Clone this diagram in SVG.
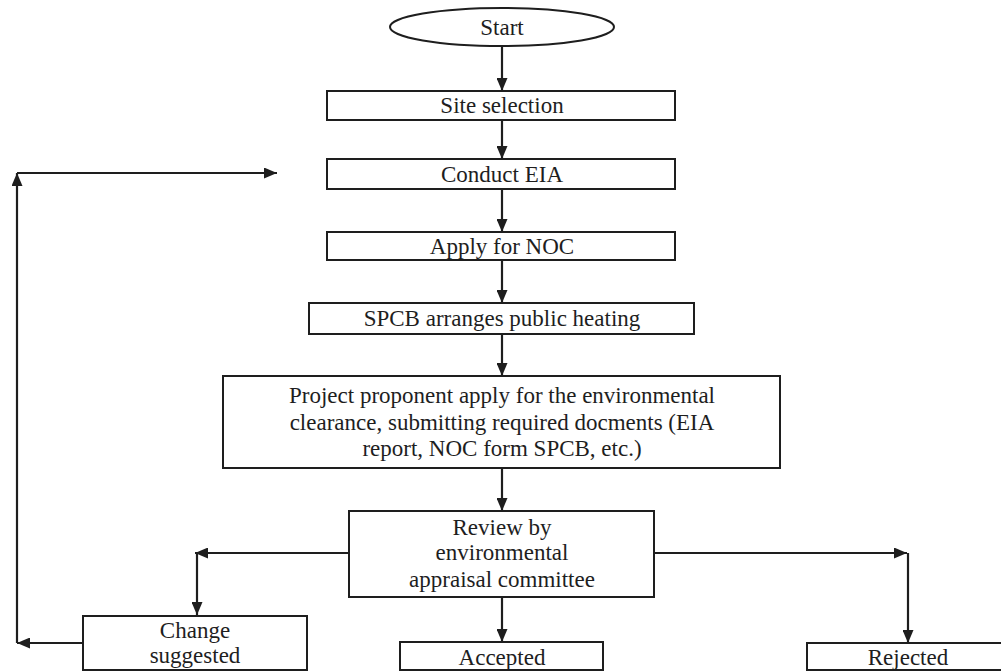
<svg xmlns="http://www.w3.org/2000/svg" width="1001" height="672" viewBox="0 0 1001 672">
<style>
.box{fill:#fff;stroke:#1e1e1e;stroke-width:2}
.t{font-family:"Liberation Serif","Times New Roman",serif;font-size:23px;fill:#1e1e1e;text-anchor:middle}
.c{fill:none;stroke:#1e1e1e;stroke-width:2.2;marker-end:url(#ah)}
</style>
<defs>
<marker id="ah" viewBox="0 0 13 11" refX="13" refY="5.5" markerWidth="13" markerHeight="11" markerUnits="userSpaceOnUse" orient="auto">
<path d="M0,0 L13,5.5 L0,11 z" fill="#1e1e1e"/>
</marker>
</defs>
<rect width="1001" height="672" fill="#fff"/>
<g id="connectors">
<path class="c" d="M502,46 V91"/>
<path class="c" d="M502,120 V159"/>
<path class="c" d="M502,189 V232"/>
<path class="c" d="M502,260 V303"/>
<path class="c" d="M502,334 V376"/>
<path class="c" d="M502,468 V511"/>
<path class="c" d="M502,597 V642"/>
<path class="c" d="M349,553 H195"/>
<path class="c" d="M197,553 V615"/>
<path class="c" d="M654,553 H907"/>
<path class="c" d="M908,553 V643"/>
<path class="c" d="M83,643 H17"/>
<path class="c" d="M17,643 V173"/>
<path class="c" d="M17,173 H277"/>
</g>
<g id="start">
<ellipse class="box" cx="502" cy="27" rx="112" ry="19"/>
<text class="t" x="502" y="35">Start</text>
</g>
<g id="site-selection">
<rect class="box" x="327" y="91" width="348" height="29"/>
<text class="t" x="502" y="113">Site selection</text>
</g>
<g id="conduct-eia">
<rect class="box" x="327" y="159" width="348" height="30"/>
<text class="t" x="502" y="182">Conduct EIA</text>
</g>
<g id="apply-noc">
<rect class="box" x="327" y="232" width="348" height="28"/>
<text class="t" x="502" y="254">Apply for NOC</text>
</g>
<g id="spcb">
<rect class="box" x="309" y="303" width="385" height="31"/>
<text class="t" x="502" y="326">SPCB arranges public heating</text>
</g>
<g id="project">
<rect class="box" x="223" y="376" width="557" height="92"/>
<text class="t" x="502" y="403">Project proponent apply for the environmental</text>
<text class="t" x="502" y="430">clearance, submitting required docments (EIA</text>
<text class="t" x="502" y="456">report, NOC form SPCB, etc.)</text>
</g>
<g id="review">
<rect class="box" x="349" y="511" width="305" height="86"/>
<text class="t" x="502" y="535">Review by</text>
<text class="t" x="502" y="560">environmental</text>
<text class="t" x="502" y="587">appraisal committee</text>
</g>
<g id="change">
<rect class="box" x="83" y="616" width="224" height="54"/>
<text class="t" x="195" y="638">Change</text>
<text class="t" x="195" y="663">suggested</text>
</g>
<g id="accepted">
<rect class="box" x="400" y="642" width="203" height="28"/>
<text class="t" x="502" y="665">Accepted</text>
</g>
<g id="rejected">
<rect class="box" x="807" y="643" width="200" height="27"/>
<text class="t" x="908" y="665">Rejected</text>
</g>
</svg>
